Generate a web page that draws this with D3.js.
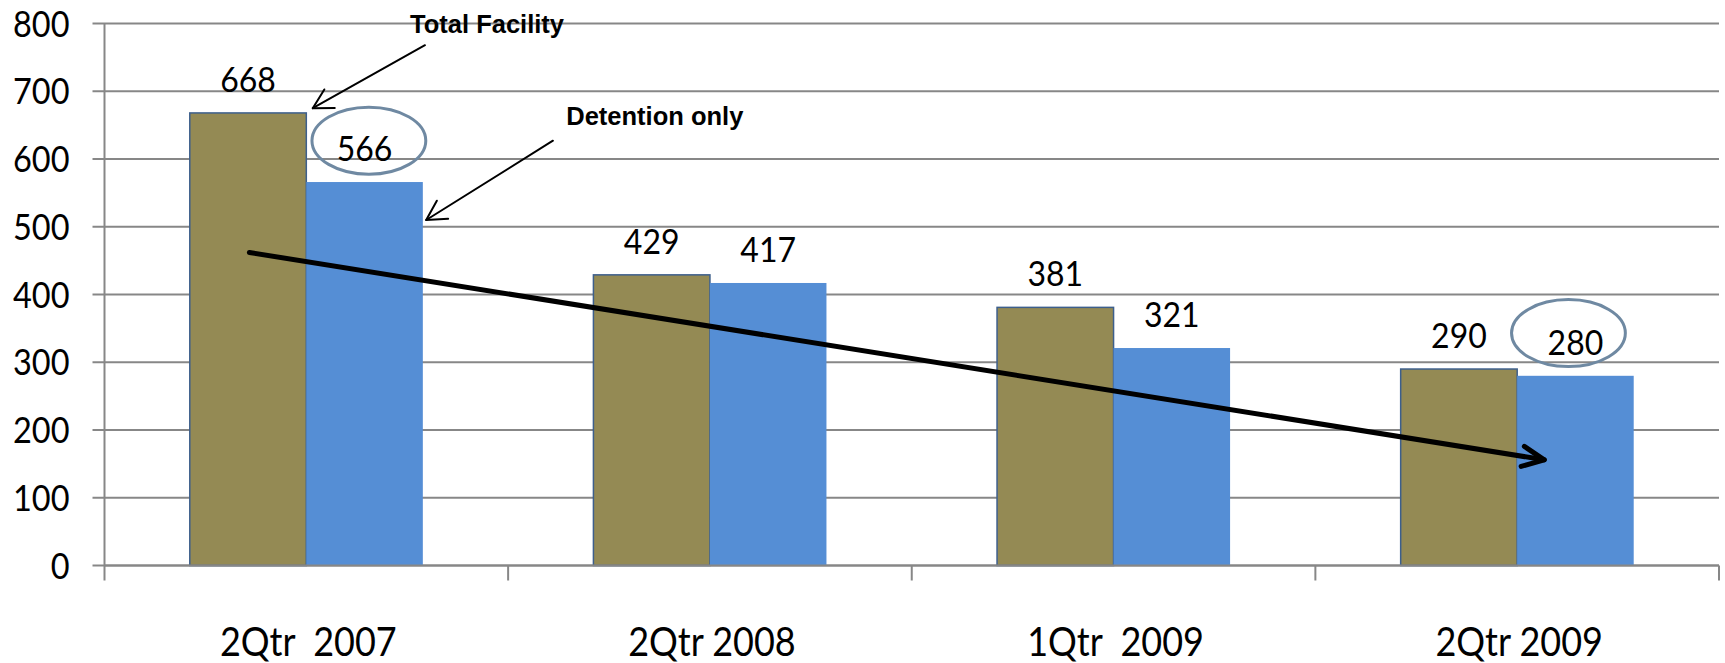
<!DOCTYPE html>
<html><head><meta charset="utf-8">
<script src="https://cdn.jsdelivr.net/npm/d3@7"></script>
<style>body{margin:0;background:#fff}svg{display:block}</style>
</head><body><svg id="c" width="1725" height="663"></svg>
<script>
// ---- data ----
const categories = ["2Qtr  2007", "2Qtr 2008", "1Qtr  2009", "2Qtr 2009"];
const seriesNames = ["Total Facility", "Detention only"];
const totalFacility = [668, 429, 381, 290];
const detentionOnly = [566, 417, 321, 280];
const yTicks = [0, 100, 200, 300, 400, 500, 600, 700, 800];

// annotations, in data terms: [category index, fraction of band, value]
const calloutTexts = ["Total Facility", "Detention only"];
const calloutTextPos = [[0, 0.757, 786], [1, 0.144, 650]];
const calloutArrowFrom = [[0, 0.794, 768], [1, 0.111, 627]];
const calloutArrowTo = [[0, 0.516, 675], [0, 0.797, 510]];
const ellipseCenters = [[0, 0.655, 627], [3, 0.627, 343]];
const trendFrom = [0, 0.359, 462];
const trendTo = [3, 0.567, 156];

(function () {
// ---- layout ----
const svg = d3.select("#c");
const plotLeft = 104.5, plotRight = 1719, plotTop = 23.5, plotBottom = 565.5;

const x = d3.scaleBand().domain(categories).range([plotLeft, plotRight]);
const y = d3.scaleLinear().domain([0, 800]).range([plotBottom, plotTop]);
const xs = d3.scaleBand().domain([0, 1]).range([0, x.bandwidth()]).paddingInner(0).paddingOuter(0.732);

const series = [totalFacility, detentionOnly];
const fills = ["#948A54", "#558ED5"];
const strokes = ["#3D5F8C", "none"];
const gridColor = "#878787";
const numFont = "Lato, 'Open Sans', sans-serif";

function px(p) { return x(categories[p[0]]) + p[1] * x.bandwidth(); }
function py(p) { return y(p[2]); }

// gridlines (with left tick stubs)
svg.append("g").selectAll("line").data(yTicks).join("line")
  .attr("x1", plotLeft - 12).attr("x2", plotRight)
  .attr("y1", d => y(d)).attr("y2", d => y(d))
  .attr("stroke", gridColor).attr("stroke-width", 2);

// y axis line
svg.append("line").attr("x1", plotLeft).attr("x2", plotLeft)
  .attr("y1", y(800)).attr("y2", plotBottom + 15)
  .attr("stroke", gridColor).attr("stroke-width", 2);

// category ticks
const catBounds = categories.map(c => x(c)).concat([plotRight]);
svg.append("g").selectAll("line").data(catBounds.slice(1)).join("line")
  .attr("x1", d => d).attr("x2", d => d)
  .attr("y1", plotBottom).attr("y2", plotBottom + 15)
  .attr("stroke", gridColor).attr("stroke-width", 2);

// y tick labels
svg.append("g").selectAll("text").data(yTicks).join("text")
  .attr("transform", d => `translate(${plotLeft - 35},${y(d) + 13}) scale(1,1.1)`)
  .attr("text-anchor", "end")
  .style("font-family", numFont).style("font-size", "32.5px").attr("fill", "#000")
  .text(d => d);

// bars
series.forEach((vals, si) => {
  svg.append("g").selectAll("rect").data(vals).join("rect")
    .attr("x", (d, i) => x(categories[i]) + xs(si))
    .attr("width", xs.bandwidth())
    .attr("y", d => y(d))
    .attr("height", d => plotBottom - y(d))
    .attr("fill", fills[si])
    .attr("stroke", strokes[si]).attr("stroke-width", 1.5);
});

// redraw baseline over bars
svg.append("line").attr("x1", plotLeft).attr("x2", plotRight)
  .attr("y1", plotBottom).attr("y2", plotBottom)
  .attr("stroke", gridColor).attr("stroke-width", 2);

// data labels
series.forEach((vals, si) => {
  svg.append("g").selectAll("text").data(vals).join("text")
    .attr("transform", (d, i) => `translate(${x(categories[i]) + xs(si) + xs.bandwidth() / 2},${y(d) - 21}) scale(1,1.1)`)
    .attr("text-anchor", "middle")
    .style("font-family", numFont).style("font-size", "32px").attr("fill", "#000")
    .text(d => d);
});

// category labels
svg.append("g").selectAll("text").data(categories).join("text")
  .attr("transform", d => `translate(${x(d) + x.bandwidth() / 2 + 2},656) scale(1,1.1)`)
  .attr("text-anchor", "middle")
  .style("white-space", "pre")
  .style("font-family", numFont).style("font-size", "36px").attr("fill", "#000")
  .text(d => d);

// ellipses around highlighted labels
svg.append("g").selectAll("ellipse").data(ellipseCenters).join("ellipse")
  .attr("cx", d => px(d)).attr("cy", d => py(d))
  .attr("rx", x.bandwidth() * 0.141).attr("ry", 33.5)
  .attr("fill", "none").attr("stroke", "#6F89A2").attr("stroke-width", 3);

// arrow helper
function arrow(x1, y1, x2, y2, w, len, ang) {
  const a = Math.atan2(y1 - y2, x1 - x2);
  const r = ang * Math.PI / 180;
  const p1 = [x2 + len * Math.cos(a + r), y2 + len * Math.sin(a + r)];
  const p2 = [x2 + len * Math.cos(a - r), y2 + len * Math.sin(a - r)];
  const g = svg.append("g").attr("stroke", "#000").attr("fill", "none")
    .attr("stroke-width", w).attr("stroke-linecap", "round").attr("stroke-linejoin", "round");
  g.append("line").attr("x1", x1).attr("y1", y1).attr("x2", x2).attr("y2", y2);
  g.append("path").attr("d", `M${p1[0]},${p1[1]}L${x2},${y2}L${p2[0]},${p2[1]}`);
}

// callout arrows + texts
calloutTexts.forEach((t, i) => {
  arrow(px(calloutArrowFrom[i]), py(calloutArrowFrom[i]), px(calloutArrowTo[i]), py(calloutArrowTo[i]), 2, 22, 29);
  svg.append("text")
    .attr("x", px(calloutTextPos[i])).attr("y", py(calloutTextPos[i]))
    .style("font-family", "'Liberation Sans', Arial, sans-serif")
    .style("font-weight", "bold").style("font-size", "25.5px").attr("fill", "#000")
    .text(t);
});

// trend arrow
arrow(px(trendFrom), py(trendFrom), px(trendTo), py(trendTo), 5, 24, 25);
})();
</script></body></html>
